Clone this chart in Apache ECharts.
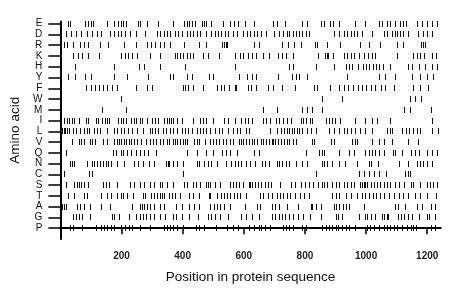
<!DOCTYPE html>
<html><head><meta charset="utf-8">
<script src="https://cdn.jsdelivr.net/npm/echarts@6/dist/echarts.min.js"></script>
<style>html,body{margin:0;padding:0;background:#fff}#c{width:460px;height:299px}</style>
</head><body><div id="c"></div>
<script>
// amino acids, top to bottom
const categories = ['E','D','R','K','H','Y','F','W','M','I','L','V','Q','N','C','S','T','A','G','P'];
const xTicks = [200, 400, 600, 800, 1000, 1200];
const seqLength = 1244;

const posE = [24,32,81,91,100,108,151,175,188,197,206,216,253,262,283,321,370,403,413,422,431,440,462,470,478,494,532,554,567,581,603,635,697,708,736,792,808,852,862,882,893,911,965,998,1041,1052,1068,1079,1095,1111,1122,1130,1165,1182,1198,1214,1233];
const posD = [2,18,35,51,67,87,102,121,132,164,177,188,199,213,229,246,278,316,327,338,348,359,375,386,397,413,424,435,446,457,476,494,505,516,527,538,549,565,578,597,610,621,632,643,657,671,700,714,727,740,749,760,770,781,792,803,812,895,913,927,938,949,960,971,987,1019,1057,1068,1086,1093,1100,1111,1122,1138,1171,1187,1198,1214];
const posR = [2,11,22,43,65,78,91,130,156,208,246,283,296,311,325,338,359,403,454,478,530,536,541,545,635,651,725,743,765,787,833,841,873,916,981,1008,1046,1100,1120,1179,1187,1192];
const posK = [40,58,72,91,127,199,210,221,235,251,292,325,375,383,392,400,415,424,433,467,484,519,570,586,599,613,628,641,662,684,711,725,738,760,844,866,871,876,892,927,938,949,960,978,992,1006,1019,1030,1100,1154,1165,1176,1190,1214,1230];
const posH = [48,177,256,275,325,408,572,749,762,837,895,933,944,954,974,989,1000,1011,1021,1032,1043,1054,1079,1136,1151,1173,1194,1214,1233];
const posY = [2,24,48,80,100,177,219,286,359,370,413,430,487,500,584,610,628,641,711,757,770,781,808,938,1041,1063,1095,1149,1176,1198,1219];
const posF = [2,83,100,114,127,141,154,170,184,249,283,300,400,408,419,435,465,511,527,535,552,570,576,613,624,641,678,695,725,768,830,841,881,913,927,941,956,974,987,1001,1017,1030,1050,1063,1090,1154,1176,1203];
const posW = [197,855,920,1144,1160,1179];
const posM = [137,216,664,708,790,808,824,855,1125,1144,1212];
const posI = [13,21,28,37,45,62,83,91,116,123,137,145,154,159,188,197,206,216,232,240,249,260,267,283,300,311,321,340,348,357,361,368,381,397,435,457,467,478,498,535,549,570,592,603,613,626,664,673,686,705,716,727,740,754,787,794,805,816,824,870,879,887,898,916,963,998,1019,1035,1079,1214];
const posL = [2,6,11,16,22,29,40,51,65,78,87,94,110,121,130,154,175,186,197,208,221,235,251,271,292,300,311,321,335,346,359,370,383,397,408,419,430,446,457,467,478,491,505,519,530,549,565,578,589,606,617,686,708,722,733,740,749,757,765,773,781,792,808,819,835,879,895,913,927,938,949,963,981,998,1019,1068,1079,1086,1119,1130,1140,1154,1165,1176,1214,1236];
const posV = [37,62,69,78,97,105,113,141,151,175,184,192,199,208,216,224,232,240,251,264,281,292,303,314,325,335,348,354,368,375,383,392,400,408,415,437,446,454,473,491,500,509,519,532,543,554,565,584,592,599,608,617,628,635,643,657,664,673,682,692,697,701,711,722,733,740,749,760,770,824,830,884,895,954,963,971,1019,1041,1057,1086,1138,1171];
const posQ = [18,173,181,199,206,219,232,246,260,273,287,314,415,446,476,500,530,543,554,578,635,649,803,846,857,862,911,944,960,998,1008,1019,1030,1043,1060,1087,1093,1117,1147,1160,1173,1198,1214,1233];
const posN = [32,38,45,87,102,110,119,130,141,148,156,167,184,208,242,253,271,289,305,346,351,357,368,381,400,446,454,470,484,494,511,543,559,570,581,592,606,621,638,660,668,682,708,716,725,738,747,770,790,808,855,862,873,887,911,931,971,1008,1017,1039,1106,1138,1168,1176,1187,1198,1214];
const posC = [13,94,105,400,835,976,992,1008,1025,1041,1065,1127,1136,1144];
const posS = [18,45,54,62,69,78,91,141,148,159,184,229,240,260,273,294,307,327,332,348,370,403,413,435,444,457,476,484,491,505,522,554,565,576,584,597,617,621,628,636,646,657,668,678,689,718,754,768,787,801,814,827,844,855,862,873,887,900,911,927,938,949,960,981,987,992,998,1003,1017,1025,1035,1046,1057,1068,1079,1095,1106,1125,1147,1154,1176,1198,1209,1219,1233];
const posT = [26,45,78,87,134,151,167,186,199,206,219,238,271,278,296,307,316,325,332,340,357,365,375,392,422,435,454,487,491,511,524,535,545,556,567,578,589,608,654,662,678,692,708,718,729,740,751,768,783,797,814,889,900,913,933,949,971,985,998,1011,1021,1032,1046,1060,1075,1090,1106,1122,1136,1160,1176,1198,1230];
const posA = [5,11,18,54,65,76,97,134,162,235,260,267,275,283,294,307,325,338,379,397,422,437,454,491,502,511,522,535,554,603,643,654,692,703,714,740,776,819,824,837,852,895,902,913,924,933,944,992,1095,1104,1127,1165,1182,1212,1225];
const posG = [40,51,62,72,97,170,177,192,224,249,260,271,281,292,307,325,343,368,379,397,422,451,484,494,505,522,549,592,606,628,651,692,703,714,725,736,747,760,776,794,816,852,900,909,920,976,995,1003,1017,1030,1052,1060,1068,1073,1104,1114,1125,1138,1149,1173,1198,1205,1225];
const posP = [32,40,70,116,134,143,151,167,177,197,213,224,235,260,294,338,348,359,370,381,400,444,454,470,509,545,565,581,617,635,649,657,668,686,727,738,749,760,792,803,857,868,879,889,900,909,922,933,944,963,1003,1014,1025,1041,1057,1068,1079,1090,1100,1117,1133,1147,1154,1162,1212,1225];

const rows = [posE,posD,posR,posK,posH,posY,posF,posW,posM,posI,posL,posV,posQ,posN,posC,posS,posT,posA,posG,posP];
const data = [];
rows.forEach((arr, k) => { const yi = categories.length - 1 - k; arr.forEach(p => data.push([p, yi])); });

const chart = echarts.init(document.getElementById('c'), null, {renderer: 'canvas'});
const font = '"Liberation Sans", Arial, Helvetica, sans-serif';
const yIdx = categories.map((c, i) => i);
chart.setOption({
  animation: false,
  grid: {left: 59.4, right: 19.3, top: 21.5, bottom: 60},
  xAxis: {
    type: 'value', min: 0, max: seqLength,
    name: 'Position in protein sequence', nameLocation: 'middle', nameGap: 31,
    nameTextStyle: {fontFamily: font, fontSize: 13.5, color: '#111'},
    axisLine: {show: true, lineStyle: {color: '#000', width: 2}},
    axisTick: {show: true, length: 6, lineStyle: {color: '#000', width: 1.5}, customValues: xTicks},
    axisLabel: {customValues: xTicks, margin: 12, fontFamily: font, fontSize: 10, fontWeight: 'bold', color: '#222',
      formatter: v => String(v)},
    splitLine: {show: false}
  },
  yAxis: {
    type: 'value', min: -1, max: 19.2,
    name: 'Amino acid', nameLocation: 'middle', nameGap: 36, nameRotate: 90,
    nameTextStyle: {fontFamily: font, fontSize: 13.5, color: '#111'},
    axisLine: {show: true, lineStyle: {color: '#000', width: 2}},
    axisTick: {show: true, length: 12, lineStyle: {color: '#000', width: 1.5}, customValues: yIdx},
    axisLabel: {customValues: yIdx, margin: 18, fontFamily: font, fontSize: 10, color: '#111',
      formatter: v => categories[categories.length - 1 - Math.round(v)]},
    splitLine: {show: false}
  },
  series: [{
    type: 'custom',
    data: data,
    renderItem: (params, api) => {
      const p = api.coord([api.value(0), api.value(1)]);
      return {type: 'rect', shape: {x: Math.round(p[0]), y: Math.round(p[1] - 3), width: 1, height: 6},
        style: {fill: '#111'}};
    }
  }]
});
</script></body></html>
